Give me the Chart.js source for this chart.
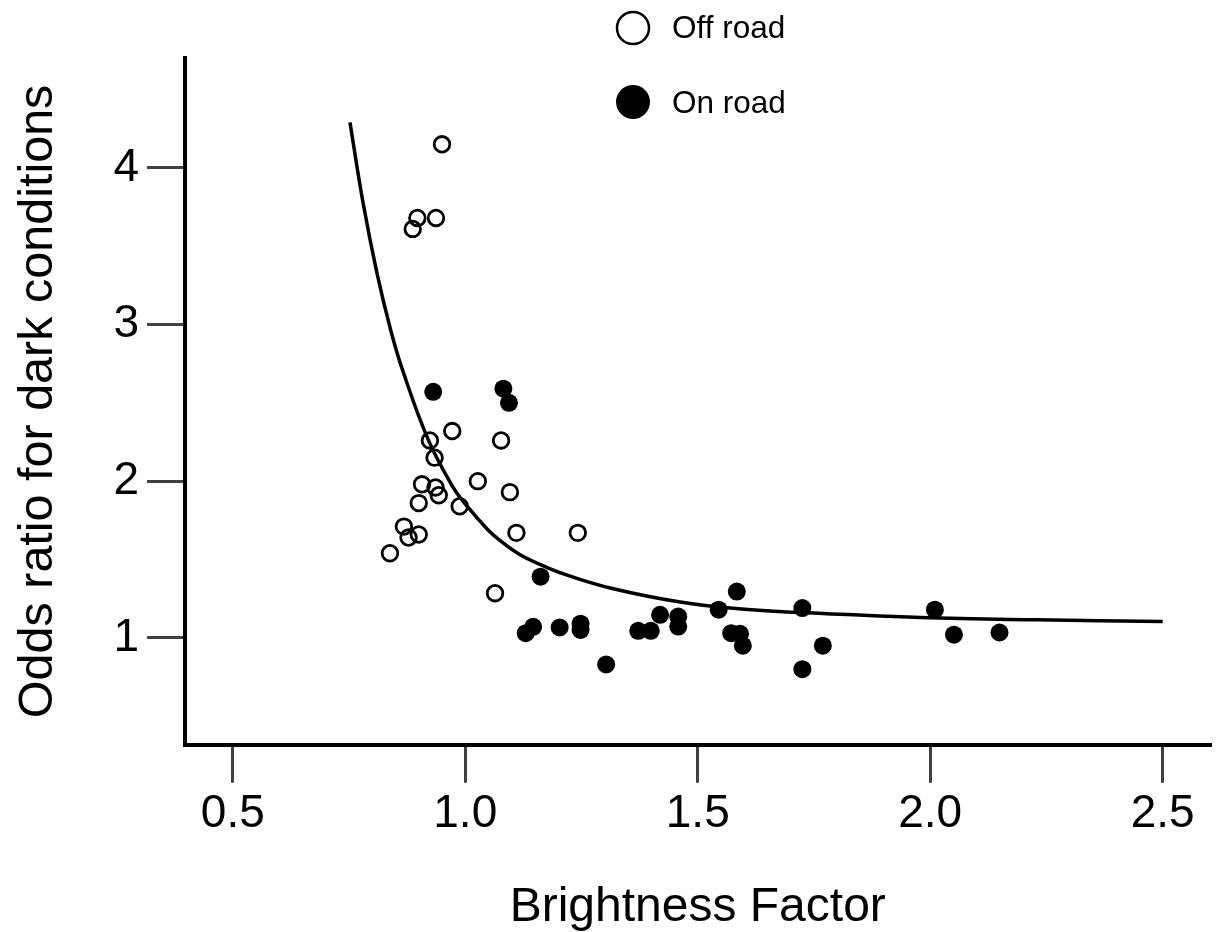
<!DOCTYPE html>
<html>
<head>
<meta charset="utf-8">
<script src="https://cdn.jsdelivr.net/npm/chart.js@4.4.1/dist/chart.umd.min.js"></script>
<style>
  html, body { margin: 0; padding: 0; background: #fff; }
  #wrap { width: 1221px; height: 932px; position: relative; }
</style>
</head>
<body>
<div id="wrap"><canvas id="c"></canvas></div>
<script>
// ---- data ----
const offRoadX = [0.950, 0.897, 0.887, 0.937, 0.972, 0.924, 0.934, 1.077, 0.907, 0.936, 0.943, 0.900, 1.027, 0.988, 1.096, 0.868, 0.878, 0.900, 0.838, 1.110, 1.064, 1.242];
const offRoadY = [4.15, 3.68, 3.61, 3.68, 2.32, 2.26, 2.15, 2.26, 1.98, 1.96, 1.91, 1.86, 2.00, 1.84, 1.93, 1.71, 1.64, 1.66, 1.54, 1.67, 1.285, 1.67];

const onRoadX = [0.931, 1.082, 1.094, 1.162, 1.130, 1.146, 1.203, 1.248, 1.248, 1.303, 1.372, 1.399, 1.419, 1.458, 1.458, 1.545, 1.584, 1.572, 1.591, 1.597, 1.725, 1.725, 1.769, 2.010, 2.051, 2.149];
const onRoadY = [2.57, 2.59, 2.50, 1.39, 1.03, 1.07, 1.066, 1.09, 1.05, 0.83, 1.045, 1.045, 1.147, 1.136, 1.072, 1.18, 1.295, 1.03, 1.026, 0.95, 1.19, 0.80, 0.95, 1.18, 1.02, 1.034];

const curveX = [0.752, 0.78, 0.81, 0.84, 0.865, 0.921, 0.974, 1.004, 1.047, 1.075, 1.118, 1.175, 1.224, 1.316, 1.459, 1.588, 1.694, 1.979, 2.229, 2.5];
const curveY = [4.29, 3.78, 3.33, 2.96, 2.71, 2.26, 1.96, 1.84, 1.695, 1.62, 1.53, 1.45, 1.395, 1.315, 1.23, 1.185, 1.165, 1.13, 1.115, 1.105];

const seriesLabels = ['Off road', 'On road'];
const xTickValues = [0.5, 1.0, 1.5, 2.0, 2.5];
const xTickLabels = ['0.5', '1.0', '1.5', '2.0', '2.5'];
const yTickValues = [1, 2, 3, 4];
const yTickLabels = ['1', '2', '3', '4'];
const xTitle = 'Brightness Factor';
const yTitle = 'Odds ratio for dark conditions';

const zip = (xs, ys) => xs.map((x, i) => ({ x: x, y: ys[i] }));

const FONT = "'Liberation Sans', Arial, sans-serif";

const legendPlugin = {
  id: 'customLegend',
  afterDraw(chart) {
    const ctx = chart.ctx;
    ctx.save();
    ctx.font = '31.5px ' + FONT;
    ctx.fillStyle = '#000';
    ctx.textBaseline = 'middle';
    ctx.textAlign = 'left';
    // Off road (open)
    ctx.beginPath();
    ctx.arc(633, 28, 16, 0, Math.PI * 2);
    ctx.lineWidth = 2.5;
    ctx.strokeStyle = '#000';
    ctx.stroke();
    ctx.fillText(chart.data.datasets[1].label, 672, 29);
    // On road (filled)
    ctx.beginPath();
    ctx.arc(633, 102, 17, 0, Math.PI * 2);
    ctx.fill();
    ctx.fillText(chart.data.datasets[2].label, 672, 104);
    ctx.restore();
  }
};

new Chart(document.getElementById('c'), {
  type: 'scatter',
  data: {
    datasets: [
      {
        type: 'line',
        label: 'fit',
        data: zip(curveX, curveY),
        borderColor: '#000',
        borderWidth: 3.5,
        pointRadius: 0,
        fill: false,
        tension: 0.4
      },
      {
        label: seriesLabels[0],
        data: zip(offRoadX, offRoadY),
        pointStyle: 'circle',
        pointRadius: 7.8,
        pointBackgroundColor: 'rgba(0,0,0,0)',
        pointBorderColor: '#000',
        pointBorderWidth: 2.8
      },
      {
        label: seriesLabels[1],
        data: zip(onRoadX, onRoadY),
        pointStyle: 'circle',
        pointRadius: 9,
        pointBackgroundColor: '#000',
        pointBorderColor: '#000',
        pointBorderWidth: 0
      }
    ]
  },
  options: {
    responsive: true,
    maintainAspectRatio: false,
    animation: false,
    layout: { padding: { top: 58, right: 6, bottom: 0, left: 0 } },
    plugins: { legend: { display: false }, tooltip: { enabled: false } },
    scales: {
      x: {
        type: 'linear',
        min: 0.3974,
        max: 2.6026,
        afterBuildTicks: (s) => { s.ticks = xTickValues.map(v => ({ value: v })); },
        ticks: {
          padding: 4,
          color: '#000',
          font: { family: FONT, size: 46 },
          callback: (v) => { const i = xTickValues.indexOf(v); return i >= 0 ? xTickLabels[i] : ''; }
        },
        grid: { display: true, drawOnChartArea: false, drawTicks: true, tickLength: 38, color: '#404040', lineWidth: 3 },
        border: { display: true, color: '#000', width: 4 },
        title: { display: true, text: xTitle, color: '#000', font: { family: FONT, size: 48, lineHeight: 1.0 }, padding: { top: 38, bottom: 0 } }
      },
      y: {
        type: 'linear',
        min: 0.3172,
        max: 4.701,
        afterBuildTicks: (s) => { s.ticks = yTickValues.map(v => ({ value: v })); },
        ticks: {
          padding: 8,
          color: '#000',
          font: { family: FONT, size: 46 },
          callback: (v) => { const i = yTickValues.indexOf(v); return i >= 0 ? yTickLabels[i] : ''; }
        },
        grid: { display: true, drawOnChartArea: false, drawTicks: true, tickLength: 38, color: '#404040', lineWidth: 3 },
        border: { display: true, color: '#000', width: 4 },
        title: { display: true, text: yTitle, color: '#000', font: { family: FONT, size: 48.5, lineHeight: 1.0 }, padding: { top: 14, bottom: 43 } }
      }
    }
  },
  plugins: [legendPlugin]
});
</script>
</body>
</html>
